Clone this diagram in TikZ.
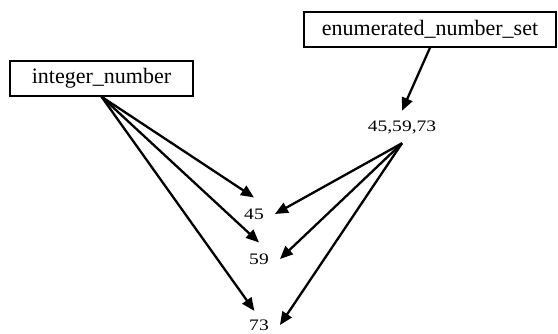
\documentclass[tikz,border=0pt]{standalone}
\usepackage{fontspec}
\setmainfont{Liberation Serif}
\usetikzlibrary{arrows.meta}
\begin{document}
\begin{tikzpicture}[x=1pt,y=-1pt,
  entbox/.style={draw,line width=1.4pt,inner sep=0pt,minimum height=35pt,font=\fontsize{22}{24}\selectfont},
  numlab/.style={inner xsep=11pt,inner ysep=11pt,font=\fontsize{16}{18}\selectfont},
  link/.style={line width=2.3pt,-{Triangle[length=13pt,width=11pt]}}]
\useasboundingbox (0,0) rectangle (558,333);
\node[entbox,minimum width=183pt] (int) at (101.5,78.5) {integer\_number};
\node[entbox,minimum width=252pt] (enum) at (430,29.5) {enumerated\_number\_set};
\node[numlab,inner ysep=9.5pt] (set) at (402,127) {\scalebox{1.22}[1]{45,59,73}};
\node[numlab] (n45) at (254,214) {\scalebox{1.22}[1]{45}};
\node[numlab] (n59) at (259,259) {\scalebox{1.22}[1]{59}};
\node[numlab,inner ysep=2pt] (n73) at (259,325) {\scalebox{1.22}[1]{73}};
\draw[link] (enum.south) -- (set.north);
\draw[link] (int.south) -- (n45.north);
\draw[link] (int.south) -- (n59.north);
\draw[link,shorten >=8pt] (int.south) -- (n73.north);
\draw[link] (set.south) -- (n45.east);
\draw[link] (set.south) -- (n59.east);
\draw[link] (set.south) -- (n73.east);
\end{tikzpicture}
\end{document}
